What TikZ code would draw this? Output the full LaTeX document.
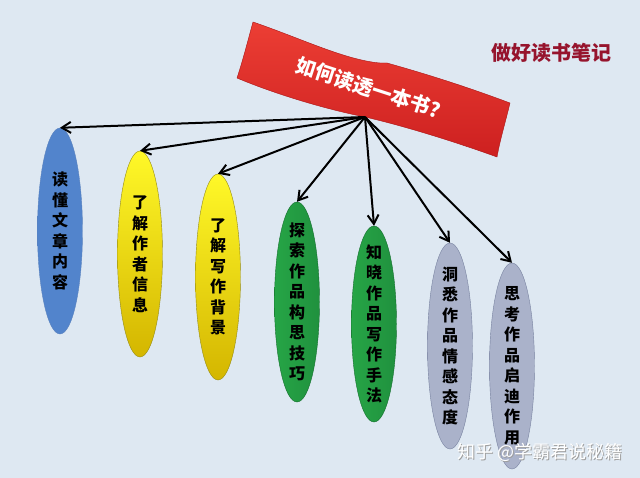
\documentclass[tikz,border=0pt]{standalone}
\usepackage{fontspec}
\newfontfamily\cjk{Noto Sans CJK SC}
\usetikzlibrary{arrows.meta}
\usetikzlibrary{shapes.geometric}

\definecolor{bgblue}{RGB}{222,232,242}
\definecolor{titlered}{RGB}{150,20,45}

\begin{document}
\begin{tikzpicture}[
    x=1pt,y=-1pt,
% Idea style
    idea/.style={ellipse,draw,thin,minimum width=45pt,minimum height=206pt,
		inner xsep=0pt,inner ysep=-30pt,align=center,
		font={\cjk\bfseries\fontsize{16pt}{20.5pt}\selectfont}},
    link/.style={-{Straight Barb[length=9pt,width=11pt]},line width=2pt},
    headline/.style={font={\cjk\bfseries\fontsize{20pt}{22pt}\selectfont},text=titlered},
    stamp/.style={font={\cjk\fontsize{18pt}{20pt}\selectfont}}
    ]

  \tikzstyle{blueidea} = [idea,draw={rgb,255:red,90;green,130;blue,190},
	left color={rgb,255:red,82;green,132;blue,204},middle color={rgb,255:red,118;green,165;blue,225},
	right color={rgb,255:red,82;green,132;blue,204}]
  \tikzstyle{yellowidea} = [idea,draw={rgb,255:red,150;green,140;blue,20},
	top color={rgb,255:red,255;green,248;blue,40},bottom color={rgb,255:red,212;green,182;blue,0}]
  \tikzstyle{greenidea} = [idea,draw={rgb,255:red,20;green,110;blue,45},
	left color={rgb,255:red,38;green,165;blue,70},middle color={rgb,255:red,70;green,215;blue,100},
	right color={rgb,255:red,32;green,145;blue,62}]
  \tikzstyle{grayidea} = [idea,draw={rgb,255:red,120;green,130;blue,160},
	left color={rgb,255:red,170;green,178;blue,202},middle color={rgb,255:red,210;green,216;blue,234},
	right color={rgb,255:red,170;green,178;blue,202}]

  \fill[bgblue] (0,0) rectangle (640,478);
  \useasboundingbox (0,0) rectangle (640,478);

  % red banner
  \draw[draw={rgb,255:red,170;green,20;blue,20},top color={rgb,255:red,236;green,62;blue,52},
	bottom color={rgb,255:red,205;green,32;blue,32}]
    (253,22) .. controls (300,38) and (345,60) .. (380,63)
    -- (387,63) .. controls (430,75) and (470,88) .. (510,103)
    .. controls (506,120) and (500,140) .. (497,157)
    .. controls (450,140) and (400,125) .. (365,117)
    .. controls (320,108) and (270,92) .. (237,78)
    .. controls (243,60) and (248,40) .. (253,22) -- cycle;
  \node (q) at (368,88) [rotate=-18,text=white,font={\cjk\bfseries\fontsize{20pt}{22pt}\selectfont}] {如何读透一本书?};
  \coordinate (hub) at (365,117);

  \node (title) at (551,53) [headline] {做好读书笔记};

  \node (b1) at (60,231) [blueidea] {读\\懂\\文\\章\\内\\容};
  \node (y1) at (140,254) [yellowidea] {了\\解\\作\\者\\信\\息};
  \node (y2) at (218,277) [yellowidea] {了\\解\\写\\作\\背\\景};
  \node (g1) at (297,302) [greenidea,minimum height=200pt] {探\\索\\作\\品\\构\\思\\技\\巧};
  \node (g2) at (374,324) [greenidea,minimum height=196pt] {知\\晓\\作\\品\\写\\作\\手\\法};
  \node (s1) at (450,346) [grayidea] {洞\\悉\\作\\品\\情\\感\\态\\度};
  \node (s2) at (512,366) [grayidea] {思\\考\\作\\品\\启\\迪\\作\\用};

  \foreach \n in {b1,y1,y2,g1,g2,s1,s2}
    \draw[link] (hub) -- (\n.north);

  % watermark
  \node (markshadow) at (541,453) [stamp,text=gray!75] {知乎 @学霸君说秘籍};
  \node (mark) at (540,452) [stamp,text=white] {知乎 @学霸君说秘籍};

\end{tikzpicture}
\end{document}
